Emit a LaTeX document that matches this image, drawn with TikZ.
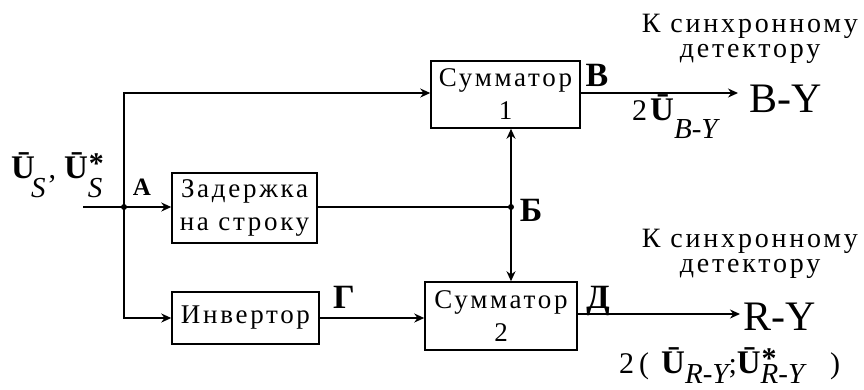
\documentclass[tikz,border=0pt]{standalone}
\usepackage{fontspec}
\setmainfont{Liberation Serif}
\newfontfamily\spf[LetterSpace=10]{Liberation Serif}
\usetikzlibrary{arrows.meta}
\newcommand{\Ub}{{\fontsize{33}{33}\selectfont\bfseries Ū}}
\newcommand{\subit}[2][18pt]{\raisebox{-#1}{\fontsize{29}{29}\selectfont\itshape #2}}
\newcommand{\starup}{\rlap{\hspace{1pt}\raisebox{5pt}{\fontsize{30}{30}\selectfont\bfseries *}}}
\begin{document}
\begin{tikzpicture}[x=1pt,y=-1pt,
  box/.style={draw, line width=1.5pt, inner sep=0pt, align=center,
    font=\spf\fontsize{27}{33}\selectfont},
  wire/.style={line width=1.5pt},
  arr/.style={wire, -{Stealth[length=10pt,width=9pt]}},
  lbl/.style={inner sep=0pt, anchor=base, font=\bfseries\fontsize{34}{34}\selectfont},
  note/.style={inner sep=0pt, align=center, font=\spf\fontsize{28}{25}\selectfont},
  big/.style={inner sep=0pt, anchor=base, font=\fontsize{42}{42}\selectfont},
  formula/.style={inner sep=0pt, anchor=base west, font=\fontsize{30}{30}\selectfont},
  jdot/.style={fill=black, circle, inner sep=0pt, minimum size=6pt}]
\useasboundingbox (0,0) rectangle (864,389);

% blocks
\node[box, minimum width=149pt, minimum height=67pt] (s1) at (505.5,94.5) {Сумматор\\1};
\node[box, minimum width=145pt, minimum height=70pt] (zd) at (244.5,208) {Задержка\\на строку};
\node[box, minimum width=147pt, minimum height=52pt] (inv) at (245.5,318) {Инвертор};
\node[box, minimum width=152pt, minimum height=68pt] (s2) at (501,316) {Сумматор\\2};

% points
\coordinate (in) at (83,207);
\node[jdot] (A) at (124,207) {};
\node[jdot] (B) at (511,207) {};
\coordinate (outB) at (738,93);
\coordinate (outR) at (740,314);

% wires
\draw[wire] (in) -- (A.center);
\draw[arr] (A.center) -- (A.center -| zd.west);
\draw[arr] (A.center) |- (s1.west |- outB);
\draw[arr] (A.center) |- (inv.west);
\draw[arr] (inv.east) -- (inv.east -| s2.west);
\draw[wire] (B.center -| zd.east) -- (B.center);
\draw[arr] (B.center) -- (B.center |- s1.south);
\draw[arr] (B.center) -- (B.center |- s2.north);
\draw[arr] (s1.east |- outB) -- (outB);
\draw[arr] (s2.east |- outR) -- (outR);

% point labels
\node[lbl, font=\bfseries\fontsize{25}{25}\selectfont] (la) at (142,195) {А};
\node[lbl] (lb) at (531,221) {Б};
\node[lbl] (lv) at (597,86) {В};
\node[lbl] (lg) at (344,308) {Г};
\node[lbl] (ld) at (598,308) {Д};

% outputs
\node[big] (by) at (786,112) {B-Y};
\node[big] (ry) at (780,330) {R-Y};
\node[note] (n1) at (750,39) {К синхронному\\детектору};
\node[note] (n2) at (750,254) {К синхронному\\детектору};

% formulas
\node[formula] (fin) at (11,178) {\Ub\hspace{-4pt}\subit[19pt]{S}\hspace{3pt},\hspace{8pt}\Ub\starup\subit[19pt]{S}};
\node[formula] (fb) at (632,120) {2\hspace{3pt}\Ub\subit{B-Y}};
\node[formula] (fr) at (619,373) {2\hspace{5pt}(\hspace{12pt}\Ub\subit[10pt]{R-Y};\Ub\starup\subit[10pt]{R-Y}\hspace{26pt})};
\end{tikzpicture}
\end{document}
